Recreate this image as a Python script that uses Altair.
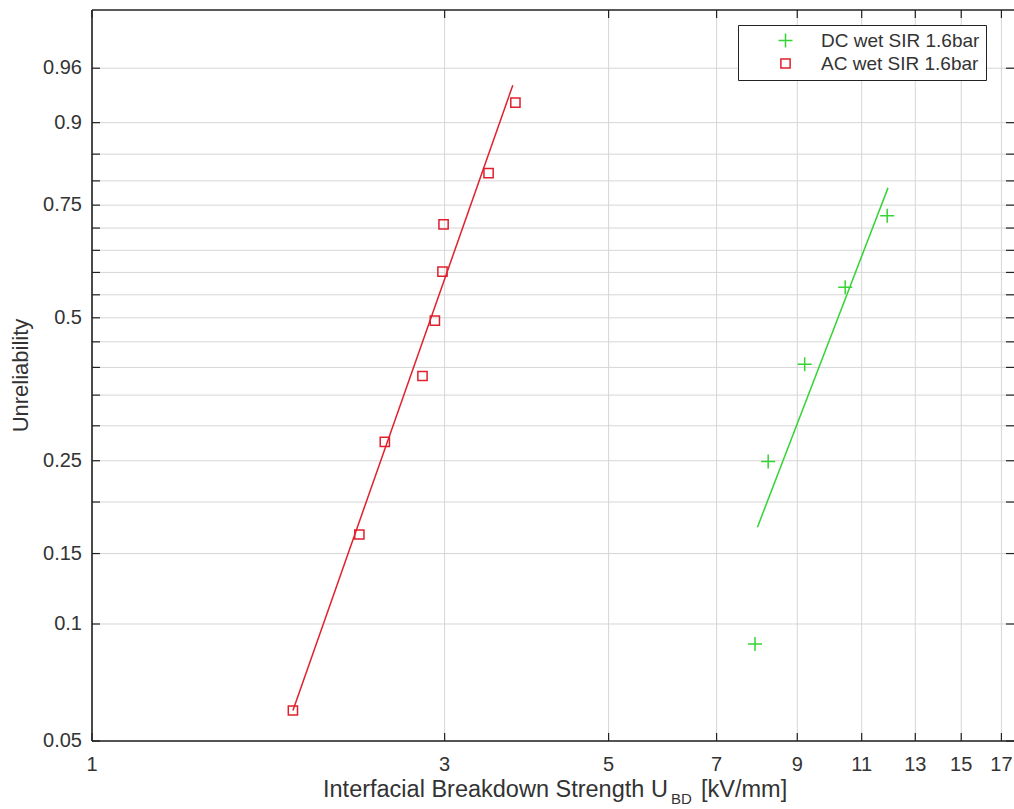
import altair as alt
import numpy as np
import pandas as pd

FONT = "Liberation Sans"
TEXT_COLOR = "#333333"
GRID_COLOR = "#d6d6d6"
GREEN = "#33d433"
RED = "#e0202c"

DC_LABEL = "DC wet SIR 1.6bar"
AC_LABEL = "AC wet SIR 1.6bar"

# breakdown strengths [kV/mm] with their median-rank unreliability
dc_strength = [7.89, 8.22, 9.21, 10.45, 11.91]
dc_unrel = [0.089, 0.249, 0.406, 0.567, 0.727]
ac_strength = [1.87, 2.30, 2.49, 2.80, 2.91, 2.98, 2.99, 3.44, 3.74]
ac_unrel = [0.060, 0.167, 0.276, 0.384, 0.494, 0.602, 0.708, 0.815, 0.926]

# end points of the fitted Weibull lines
dc_fit_strength = [7.95, 11.94]
dc_fit_unrel = [0.174, 0.786]
ac_fit_strength = [1.87, 3.71]
ac_fit_unrel = [0.060, 0.945]

# axis ticks / grid
x_ticks = [1, 3, 5, 7, 9, 11, 13, 15, 17]
y_grid = [0.05, 0.10, 0.15, 0.20, 0.25, 0.30, 0.35, 0.40, 0.45, 0.50,
          0.55, 0.60, 0.65, 0.70, 0.75, 0.80, 0.85, 0.90, 0.96]
y_tick_values = [0.05, 0.1, 0.15, 0.25, 0.5, 0.75, 0.9, 0.96]
y_tick_text = ["0.05", "0.1", "0.15", "0.25", "0.5", "0.75", "0.9", "0.96"]

X_MIN, X_MAX = 1.0, 17.68
F_MIN, F_MAX = 0.05, 0.99
W, H = 922, 731
TICK_LEN = 8
LABEL_SIZE = 20
TITLE_SIZE = 23.5


def weibull(f):
    return float(np.log(-np.log(1.0 - f)))


# Weibull probability paper: y = ln(-ln(1 - F))
WEIBULL_EXPR = "log(-log(1 - datum.unrel))"

x_scale = alt.Scale(type="log", domain=[X_MIN, X_MAX], nice=False)
y_scale = alt.Scale(type="linear", domain=[weibull(F_MIN), weibull(F_MAX)],
                    nice=False, zero=False)

points = pd.DataFrame({
    "strength": dc_strength + ac_strength,
    "unrel": dc_unrel + ac_unrel,
    "series": [DC_LABEL] * len(dc_strength) + [AC_LABEL] * len(ac_strength),
})

series_domain = [DC_LABEL, AC_LABEL]
CROSS = "M-1,0H1M0,-1V1"

legend = alt.Legend(
    title=None, orient="none", legendX=646, legendY=15,
    fillColor="white", strokeColor="#222222", padding=6,
    labelFont=FONT, labelFontSize=19, labelColor=TEXT_COLOR, labelLimit=400,
    symbolStrokeWidth=1.5, symbolOffset=32, labelOffset=26, rowPadding=3,
)

point_layer = alt.Chart(points).transform_calculate(w=WEIBULL_EXPR).mark_point(
    filled=False, strokeWidth=1.5, opacity=1
).encode(
    x=alt.X("strength:Q", scale=x_scale, axis=None),
    y=alt.Y("w:Q", scale=y_scale, axis=None),
    color=alt.Color("series:N", scale=alt.Scale(domain=series_domain, range=[GREEN, RED]),
                    legend=legend),
    shape=alt.Shape("series:N", scale=alt.Scale(domain=series_domain, range=[CROSS, "square"]),
                    legend=legend),
    size=alt.Size("series:N", scale=alt.Scale(domain=series_domain, range=[196, 85]),
                  legend=legend),
)


def fit_line(strength, unrel, color):
    df = pd.DataFrame({"strength": strength, "unrel": unrel})
    return alt.Chart(df).transform_calculate(w=WEIBULL_EXPR).mark_line(
        color=color, strokeWidth=1.5
    ).encode(
        x=alt.X("strength:Q", scale=x_scale, axis=None),
        y=alt.Y("w:Q", scale=y_scale, axis=None),
    )


dc_fit = fit_line(dc_fit_strength, dc_fit_unrel, GREEN)
ac_fit = fit_line(ac_fit_strength, ac_fit_unrel, RED)

# grid lines and inward tick marks on all four sides
y_tick_base = alt.Chart(pd.DataFrame({"unrel": y_grid})).transform_calculate(w=WEIBULL_EXPR)
h_grid = y_tick_base.mark_rule(color=GRID_COLOR, strokeWidth=1).encode(
    y=alt.Y("w:Q", scale=y_scale, axis=None), x=alt.value(0), x2=alt.value(W))
left_ticks = y_tick_base.mark_rule(color="#222222", strokeWidth=1.2).encode(
    y=alt.Y("w:Q", scale=y_scale, axis=None), x=alt.value(0), x2=alt.value(TICK_LEN))
right_ticks = y_tick_base.mark_rule(color="#222222", strokeWidth=1.2).encode(
    y=alt.Y("w:Q", scale=y_scale, axis=None), x=alt.value(W - TICK_LEN), x2=alt.value(W))

x_tick_base = alt.Chart(pd.DataFrame({"strength": x_ticks,
                                      "label": [str(v) for v in x_ticks]}))
v_grid = x_tick_base.mark_rule(color=GRID_COLOR, strokeWidth=1).encode(
    x=alt.X("strength:Q", scale=x_scale, axis=None), y=alt.value(0), y2=alt.value(H))
bottom_ticks = x_tick_base.mark_rule(color="#222222", strokeWidth=1.2).encode(
    x=alt.X("strength:Q", scale=x_scale, axis=None), y=alt.value(H - TICK_LEN), y2=alt.value(H))
top_ticks = x_tick_base.mark_rule(color="#222222", strokeWidth=1.2).encode(
    x=alt.X("strength:Q", scale=x_scale, axis=None), y=alt.value(0), y2=alt.value(TICK_LEN))

# tick labels placed through the scales
x_labels = x_tick_base.mark_text(
    align="center", baseline="top", font=FONT, fontSize=LABEL_SIZE, color=TEXT_COLOR
).encode(x=alt.X("strength:Q", scale=x_scale, axis=None), y=alt.value(H + 14), text="label:N")

y_labels = alt.Chart(pd.DataFrame({"unrel": y_tick_values, "label": y_tick_text})).transform_calculate(
    w=WEIBULL_EXPR
).mark_text(
    align="right", baseline="middle", font=FONT, fontSize=LABEL_SIZE, color=TEXT_COLOR
).encode(y=alt.Y("w:Q", scale=y_scale, axis=None), x=alt.value(-10), text="label:N")

# frame on the left, top and bottom
one_row = pd.DataFrame({"k": [0]})
frame_left = alt.Chart(one_row).mark_rule(color="#222222", strokeWidth=1.6).encode(
    x=alt.value(0), y=alt.value(0), y2=alt.value(H))
frame_top = alt.Chart(one_row).mark_rule(color="#222222", strokeWidth=1.6).encode(
    x=alt.value(0), x2=alt.value(W), y=alt.value(0))
frame_bottom = alt.Chart(one_row).mark_rule(color="#222222", strokeWidth=1.6).encode(
    x=alt.value(0), x2=alt.value(W), y=alt.value(H))

# axis titles, the x title with a subscript
y_title = alt.Chart(one_row).mark_text(
    align="center", baseline="alphabetic", angle=270, font=FONT, fontSize=22, color=TEXT_COLOR
).encode(x=alt.value(-64), y=alt.value(H / 2), text=alt.value("Unreliability"))
title_main = alt.Chart(one_row).mark_text(
    align="left", baseline="alphabetic", font=FONT, fontSize=TITLE_SIZE, color=TEXT_COLOR
).encode(x=alt.value(231), y=alt.value(787), text=alt.value("Interfacial Breakdown Strength U"))
title_sub = alt.Chart(one_row).mark_text(
    align="left", baseline="alphabetic", font=FONT, fontSize=15, color=TEXT_COLOR
).encode(x=alt.value(579), y=alt.value(794), text=alt.value("BD"))
title_unit = alt.Chart(one_row).mark_text(
    align="left", baseline="alphabetic", font=FONT, fontSize=TITLE_SIZE, color=TEXT_COLOR
).encode(x=alt.value(609), y=alt.value(787), text=alt.value("[kV/mm]"))

chart = alt.layer(
    h_grid, v_grid,
    point_layer, dc_fit, ac_fit,
    left_ticks, right_ticks, bottom_ticks, top_ticks,
    frame_left, frame_top, frame_bottom,
    x_labels, y_labels,
    y_title, title_main, title_sub, title_unit,
).properties(
    width=W, height=H,
    autosize=alt.AutoSizeParams(type="none"),
    padding={"left": 92, "top": 10, "right": 0, "bottom": 68},
    background="white",
).configure_view(
    stroke=None
)

chart.save("out.html", embed_options={"renderer": "svg", "actions": False})
